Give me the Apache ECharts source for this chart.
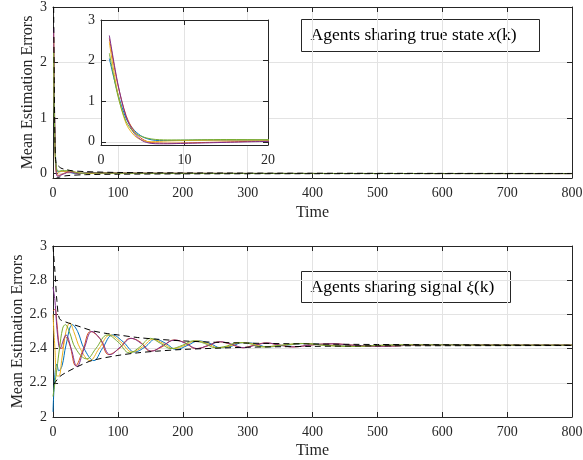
<!DOCTYPE html>
<html><head><meta charset="utf-8">
<script src="https://cdn.jsdelivr.net/npm/echarts@6/dist/echarts.min.js"></script>
<style>html,body{margin:0;padding:0;background:#fff}#c{width:583px;height:460px}</style>
</head><body><div id="c"></div>
<script>
// ---------- data ----------
const seriesNames = ['Agent 1','Agent 2','Agent 3','Agent 4','Agent 5'];
const colors = ['#0072BD','#D95319','#EDB120','#7E2F8E','#77AC30'];
const xTicks = [0,100,200,300,400,500,600,700,800];
const topYTicks = [0,1,2,3];
const insetXTicks = [0,10,20];

// top plot: agents sharing true state x(k)
const topBlue = [[1,2.05],[2,1.2],[3,0.58],[4,0.28],[5,0.12],[6,0.05],[7,0.03],[8,0.03],[10,0.035],[12,0.04],[15,0.04],[20,0.04],[25,0.03],[30,0.01],[40,0.0],[50,0.015],[70,0.01],[100,0.005],[150,0.004],[200,0.003],[300,0.002],[500,0.001],[800,0.0]];
const topOrange = [[1,2.55],[2,1.42],[3,0.65],[4,0.25],[5,0.06],[6,-0.02],[7,-0.03],[8,-0.035],[10,-0.03],[12,-0.02],[14,-0.01],[16,0.0],[18,0.01],[20,0.015],[25,0.03],[30,0.035],[40,0.01],[50,0.0],[70,0.01],[100,0.008],[150,0.005],[200,0.004],[300,0.002],[500,0.001],[800,0.0]];
const topYellow = [[1,2.45],[2,1.2],[3,0.45],[4,0.15],[5,0.03],[6,0.0],[7,0.01],[8,0.02],[10,0.03],[12,0.035],[15,0.04],[20,0.04],[25,0.035],[30,0.02],[40,0.005],[50,0.01],[70,0.012],[100,0.006],[150,0.004],[200,0.003],[300,0.002],[500,0.001],[800,0.0]];
const topPurple = [[1,2.62],[2,1.45],[3,0.62],[4,0.2],[5,0.02],[6,-0.04],[7,-0.05],[8,-0.05],[9,-0.045],[10,-0.04],[12,-0.03],[14,-0.02],[16,-0.01],[18,0.0],[20,0.01],[22,0.03],[30,0.02],[40,-0.005],[55,0.02],[80,0.01],[100,0.008],[150,0.005],[200,0.004],[300,0.002],[500,0.001],[800,0.0]];
const topGreen = [[1,2.18],[2,1.15],[3,0.5],[4,0.22],[5,0.12],[6,0.07],[7,0.05],[8,0.045],[10,0.045],[12,0.05],[15,0.055],[20,0.05],[22,0.06],[28,0.05],[35,0.02],[45,0.005],[60,0.01],[100,0.006],[150,0.004],[200,0.003],[300,0.002],[500,0.001],[800,0.0]];
const topUpperEnv = [[1,3.0],[2,1.6],[3,0.6],[4,0.25],[5,0.17],[8,0.14],[12,0.1],[20,0.07],[30,0.05],[50,0.035],[100,0.02],[200,0.012],[400,0.006],[800,0.002]];
const topLowerEnv = [[3,-0.1],[8,-0.07],[20,-0.04],[50,-0.02],[100,-0.012],[200,-0.006],[400,-0.003],[800,-0.001]];

// bottom plot: agents sharing signal xi(k)
const botBlue = [[0,2.03],[3,2.25],[6,2.31],[9,2.27],[14,2.30],[20,2.42],[30,2.54],[38,2.50],[48,2.40],[63,2.33],[76,2.40],[92,2.48],[108,2.44],[126,2.38],[142,2.41],[158,2.455],[174,2.43],[190,2.395],[208,2.42],[224,2.445],[242,2.43],[258,2.405],[276,2.415],[292,2.435],[310,2.43],[330,2.41],[360,2.42],[390,2.43],[430,2.418],[470,2.413],[520,2.42],[600,2.423],[700,2.42],[800,2.42]];
const botOrange = [[0,2.62],[3,2.63],[6,2.55],[10,2.41],[14,2.40],[19,2.47],[26,2.42],[35,2.30],[46,2.39],[58,2.50],[72,2.46],[86,2.365],[102,2.40],[119,2.46],[134,2.44],[150,2.385],[168,2.41],[186,2.45],[203,2.435],[220,2.40],[238,2.415],[256,2.44],[274,2.425],[292,2.405],[310,2.42],[328,2.433],[350,2.42],[370,2.41],[400,2.422],[430,2.428],[470,2.418],[510,2.414],[560,2.421],[620,2.423],[700,2.42],[800,2.42]];
const botYellow = [[0,2.60],[3,2.40],[6,2.24],[9,2.24],[14,2.35],[20,2.50],[26,2.55],[32,2.50],[42,2.40],[57,2.33],[71,2.40],[88,2.48],[104,2.44],[122,2.38],[138,2.41],[154,2.455],[170,2.43],[186,2.40],[204,2.42],[220,2.445],[238,2.43],[254,2.405],[272,2.415],[288,2.435],[306,2.43],[326,2.41],[356,2.42],[386,2.43],[426,2.418],[466,2.413],[516,2.42],[600,2.423],[700,2.42],[800,2.42]];
const botPurple = [[0,2.76],[3,2.68],[7,2.48],[11,2.40],[16,2.45],[20,2.48],[28,2.40],[37,2.295],[48,2.40],[60,2.50],[74,2.45],[88,2.365],[104,2.41],[121,2.46],[136,2.43],[152,2.385],[170,2.42],[188,2.45],[205,2.43],[222,2.40],[240,2.42],[258,2.44],[276,2.425],[294,2.405],[312,2.42],[330,2.433],[350,2.42],[370,2.41],[400,2.422],[430,2.428],[470,2.418],[510,2.414],[560,2.421],[620,2.423],[700,2.42],[800,2.42]];
const botGreen = [[0,2.12],[3,2.20],[6,2.28],[10,2.40],[15,2.52],[19,2.54],[25,2.50],[35,2.40],[52,2.34],[66,2.40],[84,2.48],[100,2.44],[118,2.375],[134,2.41],[150,2.46],[166,2.43],[182,2.40],[200,2.42],[216,2.445],[234,2.43],[250,2.405],[268,2.415],[284,2.435],[302,2.43],[322,2.41],[352,2.42],[382,2.43],[422,2.418],[462,2.413],[512,2.42],[600,2.422],[700,2.42],[800,2.42]];
const botUpperEnv = [[0,3.0],[3,2.85],[6,2.68],[10,2.575],[20,2.555],[40,2.53],[60,2.505],[80,2.49],[100,2.48],[130,2.465],[160,2.455],[200,2.445],[250,2.437],[300,2.432],[400,2.427],[500,2.424],[800,2.42]];
const botLowerEnv = [[1,2.19],[10,2.235],[20,2.26],[38,2.295],[60,2.33],[100,2.36],[130,2.375],[160,2.385],[200,2.395],[250,2.402],[300,2.408],[400,2.413],[500,2.416],[800,2.418]];

const topData = [topBlue, topOrange, topYellow, topPurple, topGreen];
const botData = [botBlue, botOrange, botYellow, botPurple, botGreen];

// ---------- styling ----------
const FONT = '"Liberation Serif","DejaVu Serif",serif';
const AX = '#262626';
const GRIDC = '#e3e3e3';
const lblStyle = {color: AX, fontFamily: FONT, fontSize: 14};

function xAx(gridIndex, pos, opts) {
  const show = pos === 'bottom';
  return Object.assign({
    type: 'value', gridIndex, position: pos,
    min: 0, max: 800, interval: 100,
    axisLine: {show: true, onZero: false, lineStyle: {color: AX, width: 1}},
    axisTick: {show: true, inside: true, length: 5, lineStyle: {color: AX}},
    axisLabel: Object.assign({show: show, margin: 8}, lblStyle),
    splitLine: {show: show, lineStyle: {color: GRIDC, width: 1}}
  }, opts || {});
}
function yAx(gridIndex, pos, opts) {
  const show = pos === 'left';
  return Object.assign({
    type: 'value', gridIndex, position: pos,
    axisLine: {show: true, onZero: false, lineStyle: {color: AX, width: 1}},
    axisTick: {show: true, inside: true, length: 5, lineStyle: {color: AX}},
    axisLabel: Object.assign({show: show, margin: 6}, lblStyle),
    splitLine: {show: show, lineStyle: {color: GRIDC, width: 1}}
  }, opts || {});
}
function customY(ax, vals) {
  ax.axisTick.customValues = vals;
  ax.axisLabel.customValues = vals;
  return ax;
}
const nameStyle = {color:AX,fontFamily:FONT,fontSize:16};
// grid 0: top main, grid 1: bottom, grid 2: inset
const xAxes = [
  xAx(0,'bottom',{name:'Time', nameLocation:'middle', nameGap:27, nameTextStyle:nameStyle}),
  xAx(0,'top'),
  xAx(1,'bottom',{name:'Time', nameLocation:'middle', nameGap:26, nameTextStyle:nameStyle}),
  xAx(1,'top'),
  xAx(2,'bottom',{max:20, interval:10, z:6}),
  xAx(2,'top',{max:20, interval:10, z:6})
];
const yNameTop = {name:'Mean Estimation Errors', nameLocation:'middle', nameGap:17, nameMoveOverlap:false, nameTextStyle:nameStyle};
const yNameBot = {name:'Mean Estimation Errors', nameLocation:'middle', nameGap:27, nameMoveOverlap:false, nameTextStyle:nameStyle};
const yAxes = [
  customY(yAx(0,'left',Object.assign({min:-0.08,max:3}, yNameTop)), topYTicks),
  customY(yAx(0,'right',{min:-0.08,max:3}), topYTicks),
  yAx(1,'left',Object.assign({min:2,max:3,interval:0.2}, yNameBot)),
  yAx(1,'right',{min:2,max:3,interval:0.2}),
  customY(yAx(2,'left',{min:-0.08,max:3,z:6}), topYTicks),
  customY(yAx(2,'right',{min:-0.08,max:3,z:6}), topYTicks)
];
yAxes[0].axisLabel.formatter = v => String(Math.round(v));
yAxes[4].axisLabel.formatter = v => String(Math.round(v));

const series = [];
topData.forEach((d,i) => series.push({type:'line', name:seriesNames[i], xAxisIndex:0, yAxisIndex:0, data:d, showSymbol:false, smooth:0.3, lineStyle:{width:1, color:colors[i]}, itemStyle:{color:colors[i]}, z:2}));
series.push({type:'line', xAxisIndex:0, yAxisIndex:0, data:topUpperEnv, showSymbol:false, smooth:0.3, lineStyle:{width:1, color:'#000', type:[6,4]}, z:3});
series.push({type:'line', xAxisIndex:0, yAxisIndex:0, data:topLowerEnv, showSymbol:false, smooth:0.3, lineStyle:{width:1, color:'#000', type:[6,4]}, z:3});
botData.forEach((d,i) => series.push({type:'line', name:seriesNames[i], xAxisIndex:2, yAxisIndex:2, data:d, showSymbol:false, smooth:0.4, lineStyle:{width:1, color:colors[i]}, itemStyle:{color:colors[i]}, z:2}));
series.push({type:'line', xAxisIndex:2, yAxisIndex:2, data:botUpperEnv, showSymbol:false, smooth:0.3, lineStyle:{width:1, color:'#000', type:[6,4]}, z:3});
series.push({type:'line', xAxisIndex:2, yAxisIndex:2, data:botLowerEnv, showSymbol:false, smooth:0.3, lineStyle:{width:1, color:'#000', type:[6,4]}, z:3});
topData.forEach((d,i) => series.push({type:'line', name:seriesNames[i], xAxisIndex:4, yAxisIndex:4, data:d, showSymbol:false, smooth:0.3, clip:true, lineStyle:{width:1, color:colors[i]}, itemStyle:{color:colors[i]}, z:8}));

const chart = echarts.init(document.getElementById('c'), null, {renderer:'canvas'});
chart.setOption({
  animation: false,
  backgroundColor: '#fff',
  grid: [
    {left:53, top:7, width:519, height:171, containLabel:false, outerBoundsMode:'none'},
    {left:53, top:246, width:519, height:171, containLabel:false, outerBoundsMode:'none'},
    {left:101, top:20, width:167, height:125, show:true, backgroundColor:'#fff', borderWidth:0, z:5, outerBoundsMode:'none'}
  ],
  xAxis: xAxes,
  yAxis: yAxes,
  series: series,
  graphic: [
    {type:'group', left:301, top:19, children:[
      {type:'rect', shape:{x:0,y:0,width:238,height:32}, style:{fill:'#fff', stroke:AX, lineWidth:1}},
      {type:'text', x:9, y:16, style:{text:'Agents sharing true state {i|x}(k)', fill:'#000', font:'17.5px '+FONT, verticalAlign:'middle', rich:{i:{fontStyle:'italic', fontFamily:FONT, fontSize:17.5}}}}
    ]},
    {type:'group', left:301, top:271, children:[
      {type:'rect', shape:{x:0,y:0,width:209,height:31}, style:{fill:'#fff', stroke:AX, lineWidth:1}},
      {type:'text', x:9, y:15.5, style:{text:'Agents sharing signal {i|ξ}(k)', fill:'#000', font:'17.5px '+FONT, verticalAlign:'middle', rich:{i:{fontStyle:'italic', fontFamily:FONT, fontSize:17.5}}}}
    ]}
  ]
});
</script></body></html>
